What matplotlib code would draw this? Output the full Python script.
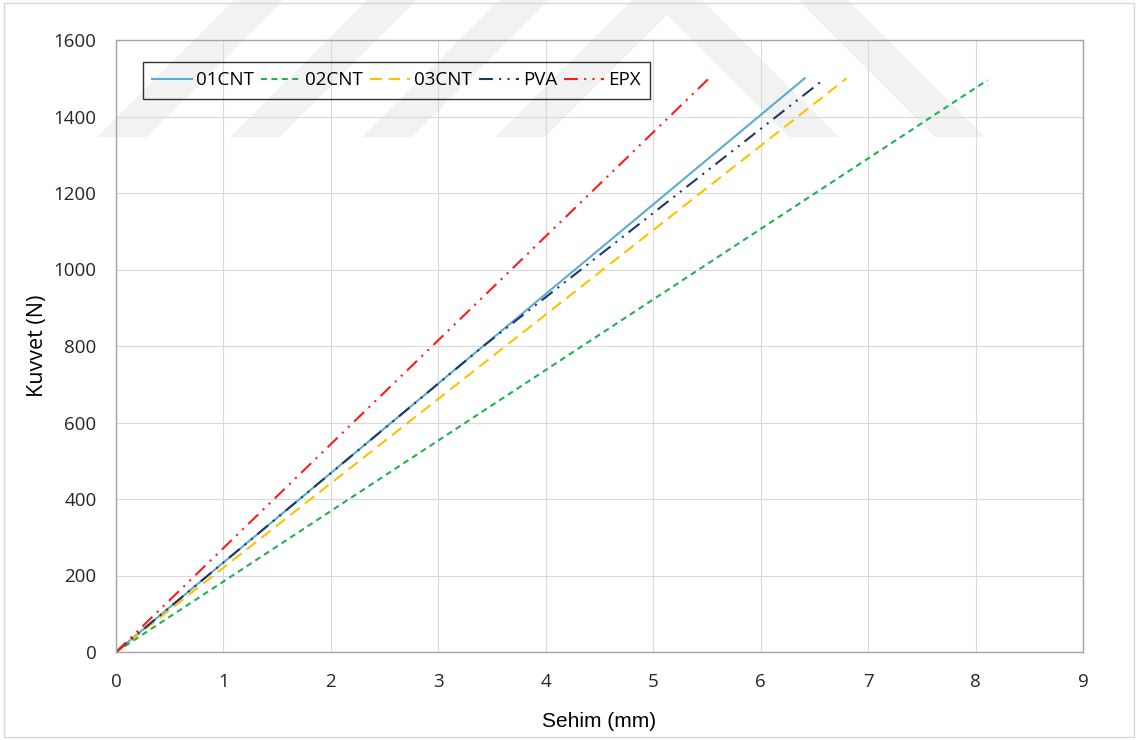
import matplotlib
matplotlib.use("Agg")
import matplotlib.pyplot as plt
from matplotlib.patches import Polygon, Rectangle

# Force-deflection readings for each specimen
series_names = ["01CNT", "02CNT", "03CNT", "PVA", "EPX"]
sehim_01cnt = [0.0, 6.41]
kuvvet_01cnt = [0, 1500]
sehim_02cnt = [0.0, 8.11]
kuvvet_02cnt = [0, 1495]
sehim_03cnt = [0.0, 6.80]
kuvvet_03cnt = [0, 1500]
sehim_pva = [0.0, 3.42, 6.57]
kuvvet_pva = [0, 800, 1493]
sehim_epx = [0.0, 5.52]
kuvvet_epx = [0, 1500]

x_ticks = [0, 1, 2, 3, 4, 5, 6, 7, 8, 9]
y_ticks = [0, 200, 400, 600, 800, 1000, 1200, 1400, 1600]

plt.rcParams["lines.scale_dashes"] = False

W, H = 1139, 740
fig = plt.figure(figsize=(W / 100, H / 100), dpi=100)
fig.patch.set_facecolor("white")


def px(pts):
    return [(x / W, 1 - y / H) for x, y in pts]


# page watermark shapes
wm_color = "#f2f2f2"
shapes = []
for x0 in [97, 230, 362]:
    shapes.append([(x0, 137), (x0 + 50, 137), (x0 + 192, -5), (x0 + 142, -5)])
shapes.append([(495, 137), (667, -35), (839, 137), (789, 137), (667, 15), (545, 137)])
shapes.append([(793, -5), (843, -5), (985, 137), (935, 137)])
for s in shapes:
    fig.patches.append(Polygon(px(s), closed=True, transform=fig.transFigure,
                               facecolor=wm_color, edgecolor="none", zorder=0))

# outer chart frame
fig.patches.append(Rectangle((4 / W, 3 / H), (1134 - 4) / W, (737 - 3) / H,
                             transform=fig.transFigure, facecolor="none",
                             edgecolor="#d9d9d9", linewidth=1.0, zorder=1))

ax = fig.add_axes([116 / W, (H - 652) / H, (1083 - 116) / W, (652 - 40) / H])
ax.set_facecolor("none")
ax.set_zorder(2)

lw = 1.5
ax.plot(sehim_01cnt, kuvvet_01cnt, color="#5aadcf", lw=lw, label=series_names[0])
ax.plot(sehim_02cnt, kuvvet_02cnt, color="#1fb34f", lw=lw, label=series_names[1],
        linestyle=(0, (4.3, 3.2)))
ax.plot(sehim_03cnt, kuvvet_03cnt, color="#ffc000", lw=lw, label=series_names[2],
        linestyle=(0, (8.5, 4.8)))
ax.plot(sehim_pva, kuvvet_pva, color="#203864", lw=lw, label=series_names[3],
        linestyle=(0, (10, 4.5, 1.5, 4.5, 1.5, 4.5)))
ax.plot(sehim_epx, kuvvet_epx, color="#ff1a1a", lw=lw, label=series_names[4],
        linestyle=(0, (10, 4.5, 1.5, 4.5, 1.5, 4.5)))

ax.set_xlim(0, 9)
ax.set_ylim(0, 1600)
ax.set_xticks(x_ticks)
ax.set_yticks(y_ticks)
ax.grid(True, color="#d9d9d9", linewidth=0.8)
ax.set_axisbelow(True)
for sp in ax.spines.values():
    sp.set_color("#a6a6a6")
    sp.set_linewidth(1.0)

ax.tick_params(axis="both", length=0, colors="#262626")
ax.tick_params(axis="y", pad=14)
ax.tick_params(axis="x", pad=15)
for lab in ax.get_xticklabels() + ax.get_yticklabels():
    lab.set_fontfamily("Open Sans")
    lab.set_fontsize(13.5)

ax.set_xlabel("Sehim (mm)", family="Liberation Sans", fontsize=15, color="#000000",
              labelpad=15)
ax.set_ylabel("Kuvvet (N)", family="Open Sans", fontsize=15.5, color="#000000",
              labelpad=4)

leg = ax.legend(loc="upper left", bbox_to_anchor=(0.028, 0.964), ncol=5,
                frameon=True, fancybox=False, borderaxespad=0,
                prop={"family": "Open Sans", "size": 13.5},
                handlelength=2.1, handletextpad=0.22, columnspacing=0.4,
                borderpad=0.5)
frame = leg.get_frame()
frame.set_edgecolor("#000000")
frame.set_linewidth(1.0)
frame.set_facecolor("none")

fig.savefig("out.png", dpi=100)
